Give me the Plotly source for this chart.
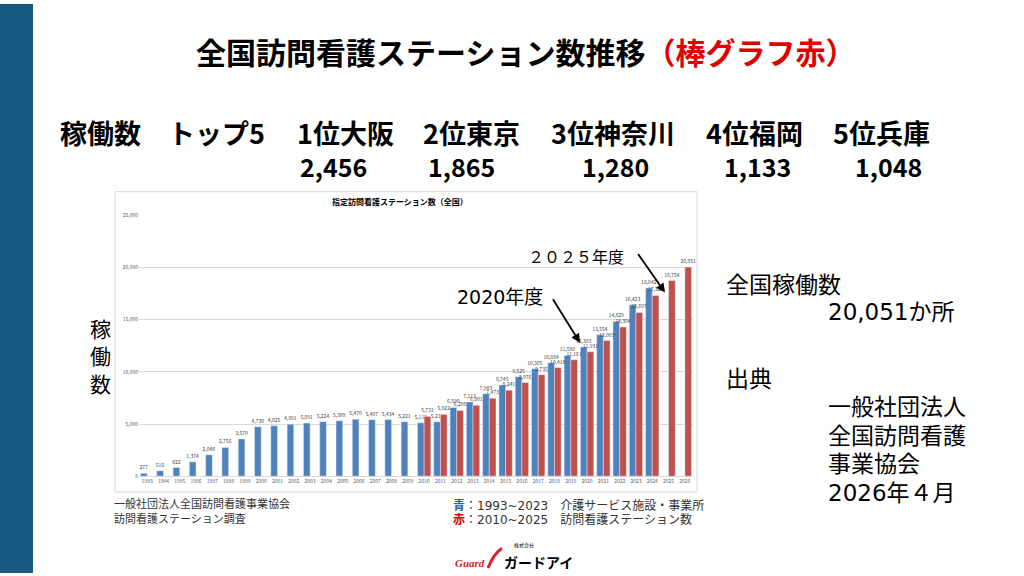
import plotly.graph_objects as go

years = [str(y) for y in range(1993, 2027)]
blue_years = [str(y) for y in range(1993, 2025)]
blue_vals = [277, 516, 822, 1374, 2048, 2756, 3570, 4730, 4825, 4991, 5091, 5224,
             5309, 5470, 5407, 5434, 5221, 5119, 5212, 6590, 7113, 7903, 8745, 9525,
             10305, 10884, 11580, 12393, 13554, 14829, 16423, 18042]
red_years = [str(y) for y in range(2010, 2027)]
red_vals = [5731, 5922, 6298, 6801, 7473, 8241, 8976, 9735, 10418, 11161, 11931,
            13003, 14304, 15697, 17329, 18754, 20051]

ranks = ["1位大阪", "2位東京", "3位神奈川", "4位福岡", "5位兵庫"]
rank_vals = ["2,456", "1,865", "1,280", "1,133", "1,048"]
rank_x = [345, 471, 613, 754, 881]
val_x = [333, 461, 615, 757, 888]

BLUE = "#4f81bd"
RED = "#c0504d"
JP = "Noto Sans CJK JP"
WIDE = "DejaVu Sans, Noto Sans CJK JP"
W, H = 1024, 576


def px(x, y):
    return x / W, 1 - y / H


fig = go.Figure()
fig.add_trace(go.Bar(
    x=blue_years, y=blue_vals, name="青", marker_color=BLUE,
    texttemplate="%{y:,}", textposition="outside", constraintext="none",
    textfont=dict(size=5, color="#404040"), cliponaxis=False,
))
fig.add_trace(go.Bar(
    x=red_years, y=red_vals, name="赤", marker_color=RED,
    texttemplate="%{y:,}", textposition="outside", constraintext="none",
    textfont=dict(size=5, color="#404040"), cliponaxis=False,
))

fig.update_layout(
    width=W, height=H, autosize=False,
    margin=dict(l=0, r=0, t=0, b=0),
    paper_bgcolor="white", plot_bgcolor="white",
    barmode="group", bargap=0.18, bargroupgap=0,
    showlegend=False, font=dict(family=JP),
    separators=".,",
)
fig.update_xaxes(
    domain=[139 / W, 693 / W], categoryorder="array", categoryarray=years,
    tickfont=dict(size=5, color="#595959"), showline=True, linecolor="#d9d9d9",
    ticks="", fixedrange=True,
)
fig.update_yaxes(
    domain=[1 - 478 / H, 1 - 214 / H], range=[0, 25000], dtick=5000,
    tickformat=",", tickfont=dict(size=5, color="#595959"),
    gridcolor="#d9d9d9", zeroline=False, ticks="", fixedrange=True,
)

# left stripe and chart frame
fig.add_shape(type="rect", xref="paper", yref="paper", x0=0, x1=33 / W, y0=0, y1=1,
              fillcolor="#1b5a80", line_width=0, layer="below")
fig.add_shape(type="rect", xref="paper", yref="paper", x0=115 / W, x1=697 / W,
              y0=1 - 494 / H, y1=1 - 190 / H, line=dict(color="#d9d9d9", width=1),
              layer="below")


def text(x, y, s, size, color="black", anchor="left", bold=False, family=JP):
    xx, yy = px(x, y)
    fig.add_annotation(xref="paper", yref="paper", x=xx, y=yy, text=f"<b>{s}</b>" if bold else s,
                       showarrow=False, xanchor=anchor, yanchor="middle",
                       font=dict(size=size, color=color, family=family))


text(525, 48, "全国訪問看護ステーション数推移<span style='color:#e00000'>（棒グラフ赤）</span>",
     30, anchor="center", bold=True)
text(58, 130, "稼働数　トップ5", 27, bold=True)
for name, cx in zip(ranks, rank_x):
    text(cx, 130, name, 27, anchor="center", bold=True)
for val, cx in zip(rank_vals, val_x):
    text(cx, 164, val, 25, anchor="center", bold=True)

text(400, 200, "指定訪問看護ステーション数（全国）", 8, anchor="center", bold=True)

# y label
xx, yy = px(88, 356)
fig.add_annotation(xref="paper", yref="paper", x=xx, y=yy, text="稼<br>働<br>数",
                   showarrow=False, font=dict(size=21, family=JP, color="black"))

# callouts
text(576, 255, "２０２５年度", 16, anchor="center")
text(500, 297, "2020年度", 19, anchor="center", family=WIDE)
for hx, hy, ax, ay in [(665, 292, -28, -40), (580, 343, -28, -45)]:
    xx, yy = px(hx, hy)
    fig.add_annotation(xref="paper", yref="paper", x=xx, y=yy, text="", showarrow=True,
                       ax=ax, ay=ay, arrowhead=2, arrowsize=1, arrowwidth=1.8,
                       arrowcolor="black", standoff=0)

# right side text
text(724, 282, "全国稼働数", 23)
text(826, 312, "20,051か所", 23, family=WIDE)
text(724, 378, "出典", 23)
for i, s in enumerate(["一般社団法人", "全国訪問看護", "事業協会", "2026年４月"]):
    text(826, 408 + i * 29, s, 23, family=WIDE)

# footnotes
text(112, 505, "一般社団法人全国訪問看護事業協会", 11, color="#333333")
text(112, 520, "訪問看護ステーション調査", 11, color="#333333")
text(451, 508, "<span style='color:#2f5fa8'><b>青</b></span>：1993~2023　介護サービス施設・事業所", 12,
     color="#333333", family=WIDE)
text(451, 522, "<span style='color:#e00000'><b>赤</b></span>：2010~2025　訪問看護ステーション数", 12,
     color="#333333", family=WIDE)

# logo
text(524, 548, "株式会社", 5, anchor="center")
text(453, 566, "<i><b>Guard</b></i>", 11, color="#d8202a", family="Liberation Serif")
x0, y0 = px(488, 571)
x1, y1 = px(494, 556)
x2, y2 = px(502, 551)
fig.add_shape(type="path", xref="paper", yref="paper",
              path=f"M {x0},{y0} Q {x1},{y1} {x2},{y2}",
              line=dict(color="#d8202a", width=3))
text(502, 565, "<b>ガードアイ</b>", 14)

fig.write_html("out.html", config={"displayModeBar": False},
               post_script="document.body.style.margin='0';")
